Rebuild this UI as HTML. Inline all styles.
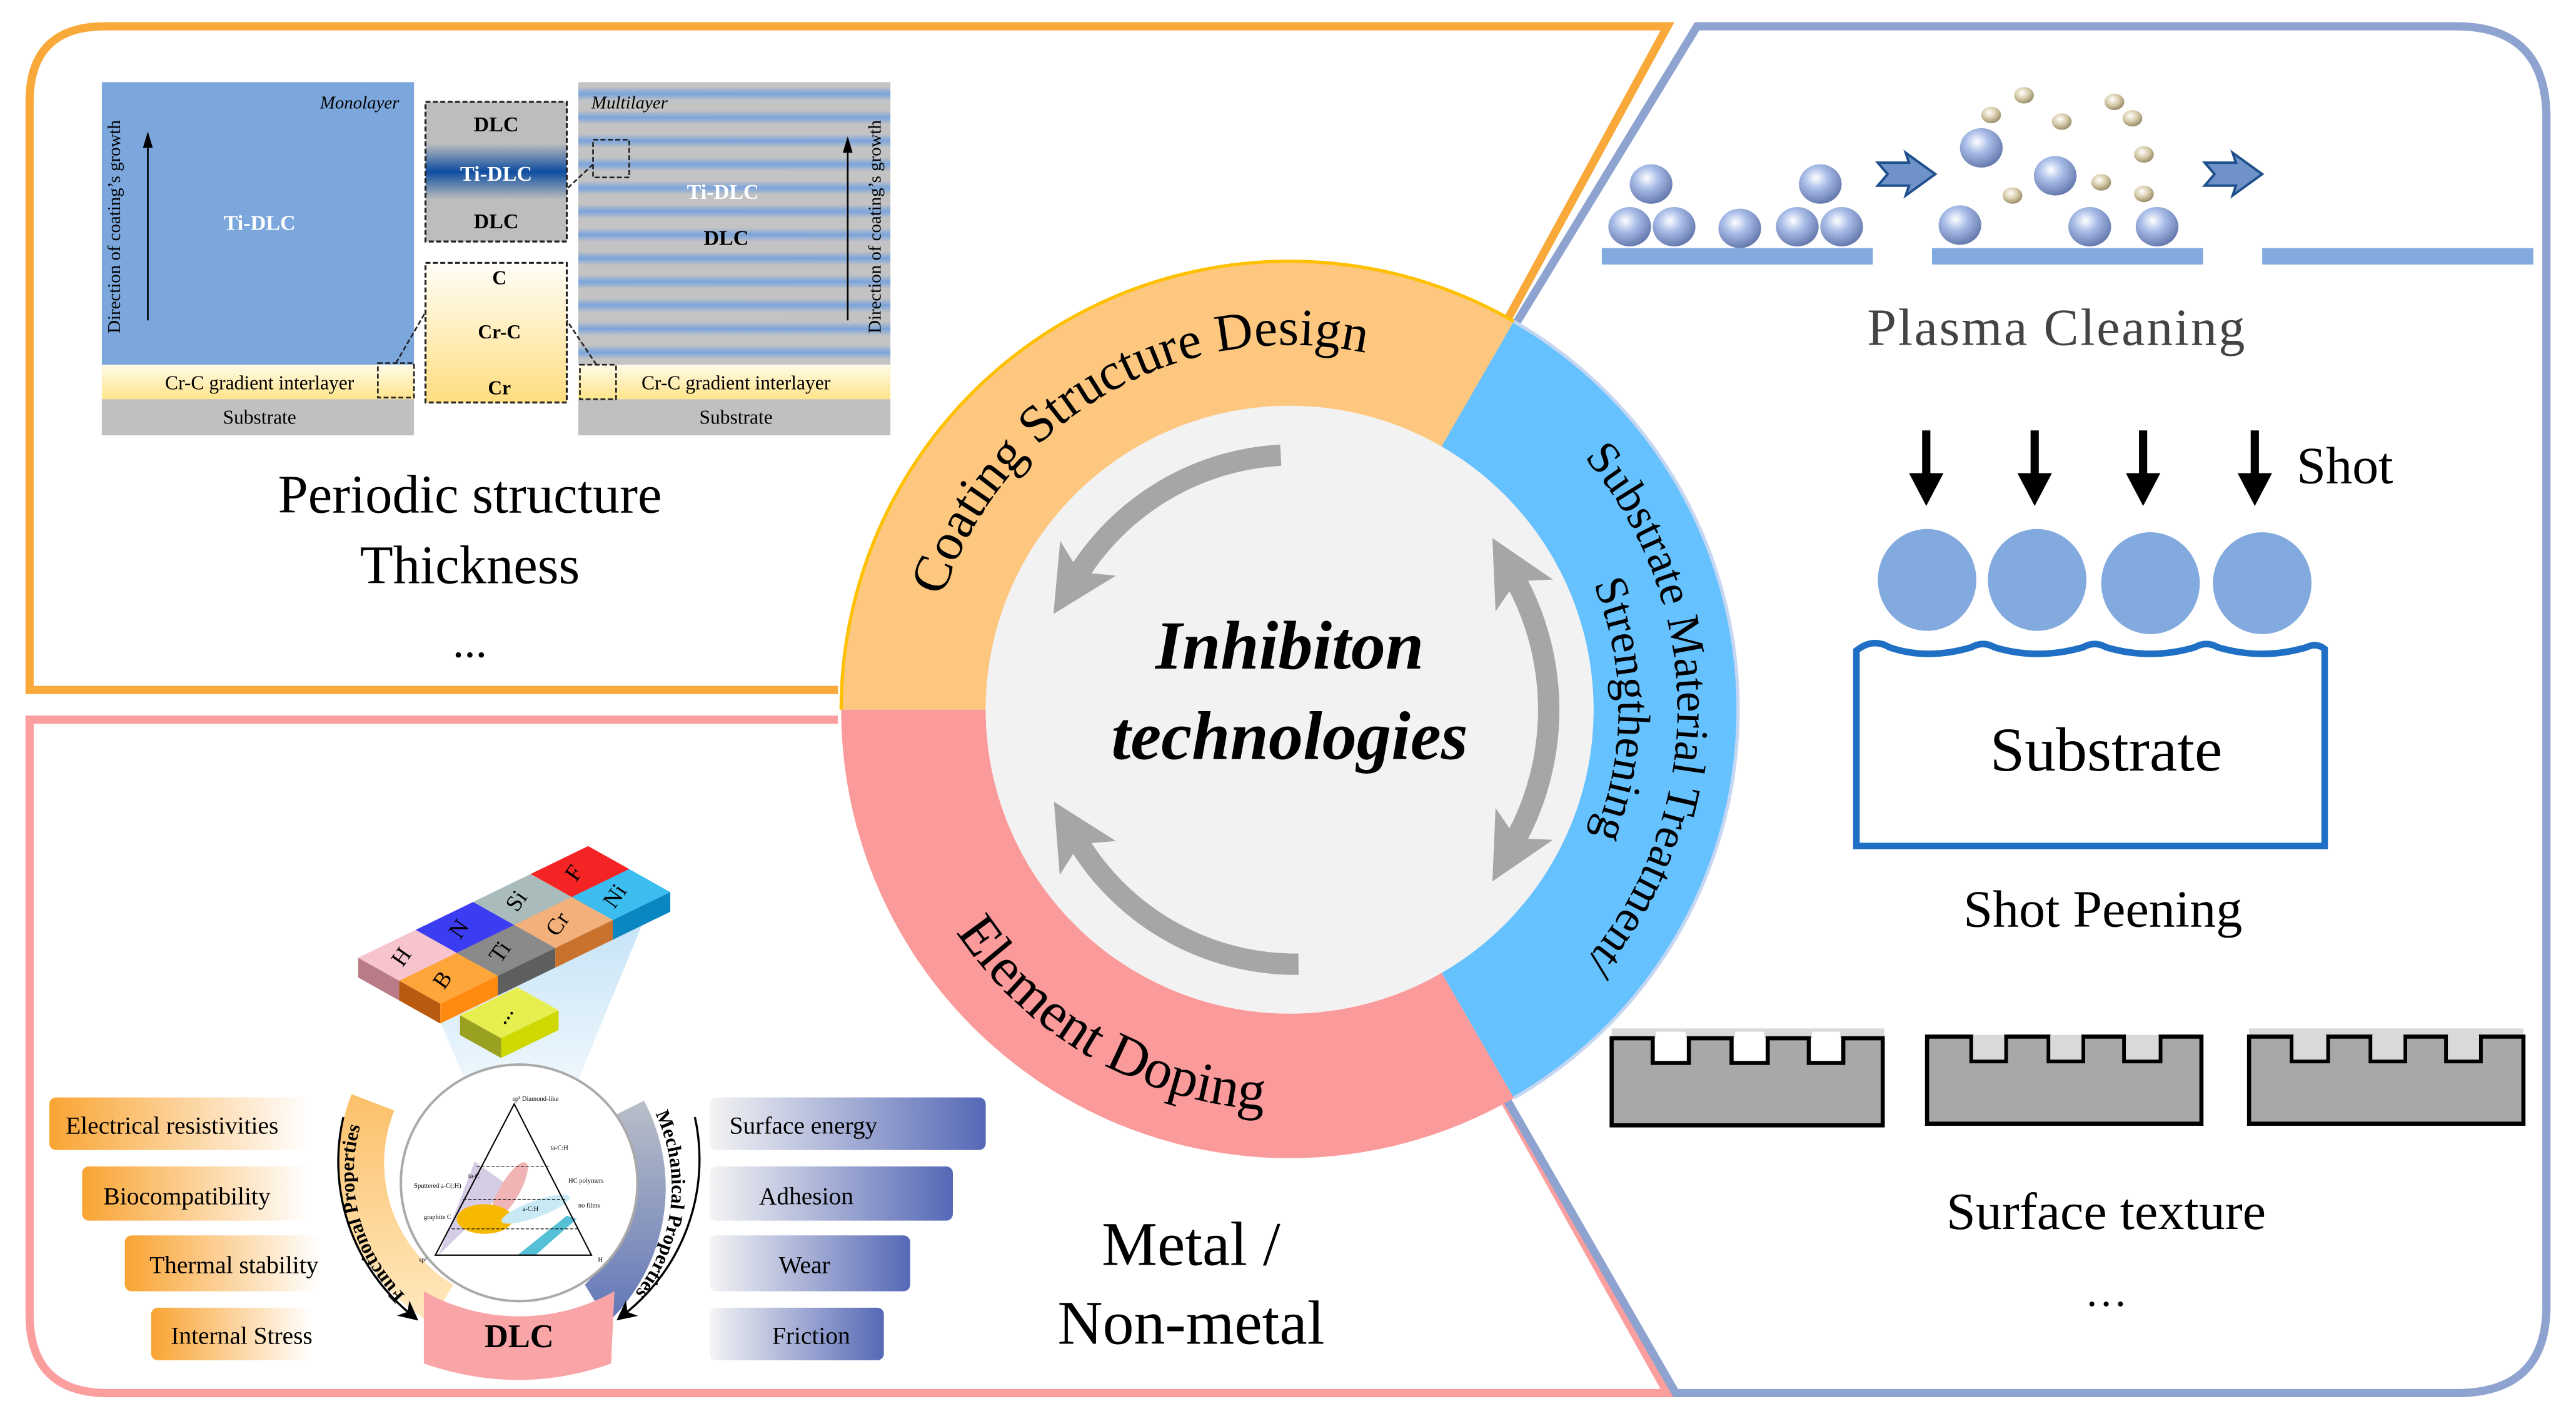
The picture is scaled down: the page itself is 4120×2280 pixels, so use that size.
<!DOCTYPE html>
<html><head><meta charset="utf-8"><style>
html,body{margin:0;padding:0;background:#fff;}
svg{display:block;}
text{font-family:"Liberation Serif",serif;}
</style></head><body>
<svg width="4120" height="2280" viewBox="0 0 1568 868" preserveAspectRatio="none" xmlns="http://www.w3.org/2000/svg">
<defs>
<linearGradient id="ilay" x1="0" y1="0" x2="0" y2="1"><stop offset="0" stop-color="#fffbe8"/><stop offset="1" stop-color="#ffe48a"/></linearGradient>
<linearGradient id="crbox" x1="0" y1="0" x2="0" y2="1"><stop offset="0" stop-color="#fffef8"/><stop offset="1" stop-color="#ffdd80"/></linearGradient>
<linearGradient id="tibox" x1="0" y1="0" x2="0" y2="1"><stop offset="0" stop-color="#bdbdbd"/><stop offset="0.3" stop-color="#bdbdbd"/><stop offset="0.5" stop-color="#0d4da0"/><stop offset="0.7" stop-color="#bdbdbd"/><stop offset="1" stop-color="#bdbdbd"/></linearGradient>
<linearGradient id="stripe" x1="0" y1="0" x2="0" y2="1"><stop offset="0" stop-color="#c3c3c3"/><stop offset="0.2" stop-color="#c3c3c3"/><stop offset="0.5" stop-color="#7aa4dc"/><stop offset="0.8" stop-color="#c3c3c3"/><stop offset="1" stop-color="#c3c3c3"/></linearGradient>
<pattern id="ml" x="0" y="50" width="200" height="14.3" patternUnits="userSpaceOnUse"><rect width="200" height="14.3" fill="url(#stripe)"/></pattern>
<linearGradient id="pillO" x1="0" y1="0" x2="1" y2="0"><stop offset="0" stop-color="#f9a433"/><stop offset="1" stop-color="#ffffff"/></linearGradient>
<linearGradient id="pillB" x1="0" y1="0" x2="1" y2="0"><stop offset="0" stop-color="#f4f4f4"/><stop offset="1" stop-color="#5568b6"/></linearGradient>
<linearGradient id="bandO" x1="0" y1="0" x2="0" y2="1"><stop offset="0" stop-color="#fcc06a"/><stop offset="1" stop-color="#ffe9c0"/></linearGradient>
<linearGradient id="bandB" x1="0" y1="0" x2="0" y2="1"><stop offset="0" stop-color="#b9bfc8"/><stop offset="1" stop-color="#6276b8"/></linearGradient>
<linearGradient id="cone" x1="0" y1="0" x2="0" y2="1"><stop offset="0" stop-color="#bfe0f6"/><stop offset="1" stop-color="#eef7fd"/></linearGradient>
<radialGradient id="ball" cx="0.4" cy="0.35" r="0.7"><stop offset="0" stop-color="#ffffff"/><stop offset="0.4" stop-color="#a9bde8"/><stop offset="1" stop-color="#5f72a8"/></radialGradient>
<radialGradient id="ballS" cx="0.4" cy="0.35" r="0.7"><stop offset="0" stop-color="#ffffff"/><stop offset="0.5" stop-color="#d8ccaa"/><stop offset="1" stop-color="#8f8460"/></radialGradient>
<marker id="gh" viewBox="0 0 10 10" refX="3" refY="5" markerWidth="40" markerHeight="40" markerUnits="userSpaceOnUse" orient="auto-start-reverse"><path d="M0,0 L10,5 L0,10 L2.5,5 Z" fill="#a6a6a6"/></marker>
<marker id="bh" viewBox="0 0 10 10" refX="5" refY="5" markerWidth="12" markerHeight="12" markerUnits="userSpaceOnUse" orient="auto"><path d="M0,0 L10,5 L0,10 L3,5 Z" fill="#000"/></marker>
<path id="tpCoat" d="M563,432 A222,222 0 0 1 896,239.7"/>
<path id="tpSub" d="M895.8,223.6 A236,236 0 0 1 895.8,640.4"/>
<path id="tpStr" d="M879,255.4 A200,200 0 0 1 879,608.6"/>
<path id="tpEl" d="M541.9,453.3 A244,244 0 0 0 888.1,653.1"/>
<path id="tpFun" d="M261,800 A104,104 0 0 1 226,668"/>
<path id="tpMec" d="M388,660 A104,104 0 0 1 372,802"/>
</defs>

<path d="M510,420 L18,420 L18,62 Q18,16 64,16 L1015,16 L860,300" fill="none" stroke="#f9a93a" stroke-width="5"/>
<path d="M510,438 L18,438 L18,800 Q18,848 66,848 L1015,848 L860,570" fill="none" stroke="#fb9e9e" stroke-width="5"/>
<path d="M860,300 L1033,16 L1495,16 Q1550,16 1550,72 L1550,795 Q1550,848 1495,848 L1020,848 L860,570" fill="none" stroke="#8ea3cf" stroke-width="5"/>

<rect x="62" y="50" width="190" height="172" fill="#7ba7dd"/>
<rect x="62" y="222" width="190" height="21" fill="url(#ilay)"/>
<rect x="62" y="243" width="190" height="22" fill="#c0c0c0"/>
<rect x="352" y="50" width="190" height="172" fill="url(#ml)"/>
<rect x="352" y="222" width="190" height="21" fill="url(#ilay)"/>
<rect x="352" y="243" width="190" height="22" fill="#c0c0c0"/>
<rect x="259" y="62" width="86" height="85" fill="url(#tibox)" stroke="#222" stroke-width="1.2" stroke-dasharray="3,1.5"/>
<rect x="259" y="160" width="86" height="85" fill="url(#crbox)" stroke="#222" stroke-width="1.2" stroke-dasharray="3,1.5"/>
<rect x="230" y="221" width="22" height="21" fill="none" stroke="#222" stroke-width="1" stroke-dasharray="3,1.5"/>
<rect x="353" y="222" width="22" height="21" fill="none" stroke="#222" stroke-width="1" stroke-dasharray="3,1.5"/>
<rect x="361" y="85" width="22" height="23" fill="none" stroke="#222" stroke-width="1" stroke-dasharray="3,1.5"/>
<path d="M241,221 L259,190 M363,222 L345,195 M361,100 L345,115" stroke="#222" stroke-width="1" stroke-dasharray="3,1.5" fill="none"/>
<path d="M90,195 L90,85" stroke="#000" stroke-width="1"/><path d="M87,90 L90,80 L93,90 Z"/>
<path d="M516,195 L516,88" stroke="#000" stroke-width="1"/><path d="M513,93 L516,83 L519,93 Z"/>
<text transform="translate(73,138) rotate(-90)" text-anchor="middle" font-size="11">Direction of coating’s growth</text>
<text transform="translate(536,138) rotate(-90)" text-anchor="middle" font-size="11">Direction of coating’s growth</text>
<text x="243" y="66" text-anchor="end" font-size="11" font-style="italic">Monolayer</text>
<text x="360" y="66" font-size="11" font-style="italic">Multilayer</text>
<text x="158" y="140" text-anchor="middle" font-size="13" font-weight="bold" fill="#fff">Ti-DLC</text>
<text x="440" y="121" text-anchor="middle" font-size="13" font-weight="bold" fill="#fff">Ti-DLC</text>
<text x="442" y="149" text-anchor="middle" font-size="13" font-weight="bold">DLC</text>
<text x="302" y="80" text-anchor="middle" font-size="13" font-weight="bold">DLC</text>
<text x="302" y="110" text-anchor="middle" font-size="13" font-weight="bold" fill="#fff">Ti-DLC</text>
<text x="302" y="139" text-anchor="middle" font-size="13" font-weight="bold">DLC</text>
<text x="304" y="173" text-anchor="middle" font-size="12" font-weight="bold">C</text>
<text x="304" y="206" text-anchor="middle" font-size="12" font-weight="bold">Cr-C</text>
<text x="304" y="240" text-anchor="middle" font-size="12" font-weight="bold">Cr</text>
<text x="158" y="237" text-anchor="middle" font-size="12">Cr-C gradient interlayer</text>
<text x="448" y="237" text-anchor="middle" font-size="12">Cr-C gradient interlayer</text>
<text x="158" y="258" text-anchor="middle" font-size="12">Substrate</text>
<text x="448" y="258" text-anchor="middle" font-size="12">Substrate</text>
<text x="286" y="312" text-anchor="middle" font-size="33">Periodic structure</text>
<text x="286" y="355" text-anchor="middle" font-size="33">Thickness</text>
<text x="286" y="400" text-anchor="middle" font-size="28">...</text>

<polygon points="268,622 392,560 350,662 285,662" fill="url(#cone)" opacity="0.9"/>
<g font-size="14" text-anchor="middle">
<polygon points="218,583 253,566 278,580 243,597" fill="#f7c3cc"/><polygon points="218,583 243,597 243,609 218,595" fill="#b97c86"/><polygon points="243,597 278,580 278,592 243,609" fill="#e8a9b4"/>
<polygon points="253,566 288,549 313,563 278,580" fill="#3c3cf2"/><polygon points="278,580 313,563 313,575 278,592" fill="#1c1cb0"/>
<polygon points="288,549 323,532 348,546 313,563" fill="#aabbbb"/><polygon points="313,563 348,546 348,558 313,575" fill="#718585"/>
<polygon points="323,532 358,515 383,529 348,546" fill="#f42424"/><polygon points="348,546 383,529 383,541 348,558" fill="#b80c0c"/>
<polygon points="243,597 278,580 303,594 268,611" fill="#ffa63a"/><polygon points="243,597 268,611 268,623 243,609" fill="#b85a10"/><polygon points="268,611 303,594 303,606 268,623" fill="#ff8a10"/>
<polygon points="278,580 313,563 338,577 303,594" fill="#8a8a8a"/><polygon points="303,594 338,577 338,589 303,606" fill="#5e5e5e"/>
<polygon points="313,563 348,546 373,560 338,577" fill="#f4b07a"/><polygon points="338,577 373,560 373,572 338,589" fill="#c8722e"/>
<polygon points="348,546 383,529 408,543 373,560" fill="#3cbdf0"/><polygon points="373,560 408,543 408,555 373,572" fill="#0a86c0"/>
<polygon points="280,618 315,601 340,615 305,632" fill="#e6ee50"/><polygon points="280,618 305,632 305,644 280,630" fill="#9aa020"/><polygon points="305,632 340,615 340,627 305,644" fill="#cfd800"/>
<text transform="translate(248,585) rotate(-55)">H</text>
<text transform="translate(283,568) rotate(-55)">N</text>
<text transform="translate(318,551) rotate(-55)">Si</text>
<text transform="translate(353,534) rotate(-55)">F</text>
<text transform="translate(273,599) rotate(-55)">B</text>
<text transform="translate(308,582) rotate(-55)">Ti</text>
<text transform="translate(343,565) rotate(-55)">Cr</text>
<text transform="translate(378,548) rotate(-55)">Ni</text>
<text transform="translate(310,620) rotate(-55)">...</text>
</g>
<path d="M214,666 A113,113 0 0 0 262,805 L276,782 A86,86 0 0 1 240,676 Z" fill="url(#bandO)"/>
<path d="M392,670 A113,113 0 0 1 370,805 L356,782 A86,86 0 0 0 372,680 Z" fill="url(#bandB)"/>
<path d="M258,786 A118,118 0 0 0 374,786 L372,830 Q316,850 258,830 Z" fill="#f9a5a8"/>
<circle cx="316" cy="720" r="72" fill="#fff" stroke="#aaa" stroke-width="1.5"/>
<path d="M209,680 A120,120 0 0 0 250,800" fill="none" stroke="#000" stroke-width="1.3" marker-end="url(#bh)"/>
<path d="M423,680 A120,120 0 0 1 380,800" fill="none" stroke="#000" stroke-width="1.3" marker-end="url(#bh)"/>
<text font-size="12" font-weight="bold"><textPath href="#tpFun" startOffset="50%" text-anchor="middle">Functional Properties</textPath></text>
<text font-size="12" font-weight="bold"><textPath href="#tpMec" startOffset="50%" text-anchor="middle">Mechanical Properties</textPath></text>
<text x="316" y="820" text-anchor="middle" font-size="20" font-weight="bold">DLC</text>
<polygon points="267,764 289,707 310,722" fill="#cdbfe0" opacity="0.8"/>
<ellipse cx="310" cy="725" rx="6" ry="20" transform="rotate(30 310 725)" fill="#f0b4b4"/>
<ellipse cx="295" cy="742" rx="17" ry="9" fill="#f7b800"/>
<ellipse cx="326" cy="736" rx="22" ry="5" transform="rotate(-20 326 736)" fill="#c9eaf4"/>
<polygon points="315,764 345,740 351,742 326,764" fill="#56c1d6"/>
<polygon points="265,764 313,672 360,764" fill="none" stroke="#000" stroke-width="0.8"/>
<path d="M290,710 L335,710 M282,730 L345,730 M275,748 L352,748" stroke="#000" stroke-width="0.4" stroke-dasharray="2,1"/>
<g font-size="4"><text x="312" y="670">sp³ Diamond-like</text><text x="285" y="717">ta-C</text><text x="335" y="700">ta-C:H</text><text x="252" y="723">Sputtered a-C(:H)</text><text x="346" y="720">HC polymers</text><text x="258" y="742">graphite C</text><text x="318" y="737">a-C:H</text><text x="352" y="735">no films</text><text x="255" y="768">sp²</text><text x="364" y="768">H</text></g>
<rect x="30" y="668" width="158" height="32" rx="4" fill="url(#pillO)"/>
<rect x="50" y="710" width="138" height="33" rx="4" fill="url(#pillO)"/>
<rect x="76" y="752" width="119" height="34" rx="4" fill="url(#pillO)"/>
<rect x="92" y="796" width="98" height="32" rx="4" fill="url(#pillO)"/>
<rect x="432" y="668" width="168" height="32" rx="4" fill="url(#pillB)"/>
<rect x="432" y="710" width="148" height="33" rx="4" fill="url(#pillB)"/>
<rect x="432" y="752" width="122" height="34" rx="4" fill="url(#pillB)"/>
<rect x="432" y="796" width="106" height="32" rx="4" fill="url(#pillB)"/>
<g font-size="15">
<text x="40" y="690">Electrical resistivities</text>
<text x="63" y="733">Biocompatibility</text>
<text x="91" y="775">Thermal stability</text>
<text x="104" y="818">Internal Stress</text>
<text x="444" y="690">Surface energy</text>
<text x="462" y="733">Adhesion</text>
<text x="474" y="775">Wear</text>
<text x="470" y="818">Friction</text>
</g>
<text x="725" y="770" text-anchor="middle" font-size="38">Metal /</text>
<text x="725" y="818" text-anchor="middle" font-size="38">Non-metal</text>

<rect x="975" y="151" width="165" height="10" fill="#82aadf"/>
<rect x="1176" y="151" width="165" height="10" fill="#82aadf"/>
<rect x="1377" y="151" width="165" height="10" fill="#82aadf"/>
<g fill="url(#ball)">
<ellipse cx="1005" cy="112" rx="13" ry="12"/><ellipse cx="992" cy="138" rx="13" ry="12"/><ellipse cx="1019" cy="138" rx="13" ry="12"/><ellipse cx="1059" cy="139" rx="13" ry="12"/><ellipse cx="1108" cy="112" rx="13" ry="12"/><ellipse cx="1094" cy="138" rx="13" ry="12"/><ellipse cx="1121" cy="138" rx="13" ry="12"/>
<ellipse cx="1206" cy="90" rx="13" ry="12"/><ellipse cx="1251" cy="107" rx="13" ry="12"/><ellipse cx="1193" cy="137" rx="13" ry="12"/><ellipse cx="1272" cy="138" rx="13" ry="12"/><ellipse cx="1313" cy="138" rx="13" ry="12"/>
</g>
<g fill="url(#ballS)">
<ellipse cx="1232" cy="58" rx="6" ry="5"/><ellipse cx="1212" cy="70" rx="6" ry="5"/><ellipse cx="1255" cy="74" rx="6" ry="5"/><ellipse cx="1287" cy="62" rx="6" ry="5"/><ellipse cx="1298" cy="72" rx="6" ry="5"/><ellipse cx="1305" cy="94" rx="6" ry="5"/><ellipse cx="1279" cy="111" rx="6" ry="5"/><ellipse cx="1225" cy="119" rx="6" ry="5"/><ellipse cx="1305" cy="118" rx="6" ry="5"/>
</g>
<path d="M1143,99 L1162,99 L1160,93 L1178,106 L1160,119 L1162,113 L1143,113 L1149,106 Z" fill="#6f93c8" stroke="#1f4f8c" stroke-width="1.5"/>
<path d="M1342,99 L1361,99 L1359,93 L1377,106 L1359,119 L1361,113 L1342,113 L1348,106 Z" fill="#6f93c8" stroke="#1f4f8c" stroke-width="1.5"/>
<text x="1252" y="210" text-anchor="middle" font-size="32" fill="#444" letter-spacing="1">Plasma Cleaning</text>
<g fill="#000">
<rect x="1170" y="262" width="5" height="30"/><path d="M1162,288 L1183,288 L1172.5,308 Z"/>
<rect x="1236" y="262" width="5" height="30"/><path d="M1228,288 L1249,288 L1238.5,308 Z"/>
<rect x="1302" y="262" width="5" height="30"/><path d="M1294,288 L1315,288 L1304.5,308 Z"/>
<rect x="1370" y="262" width="5" height="30"/><path d="M1362,288 L1383,288 L1372.5,308 Z"/>
</g>
<text x="1398" y="294" font-size="32">Shot</text>
<path d="M1130,396 Q1140,388 1150,394 Q1173,402 1200,394 Q1207,390 1214,394 Q1240,402 1268,394 Q1275,390 1282,394 Q1309,402 1336,394 Q1343,390 1350,394 Q1377,402 1404,394 Q1410,391 1415,395 L1415,515 L1130,515 Z" fill="#fff" stroke="#1f6fc5" stroke-width="4"/>
<g fill="#82aadf">
<ellipse cx="1173" cy="353" rx="30" ry="31"/><ellipse cx="1240" cy="353" rx="30" ry="31"/><ellipse cx="1309" cy="355" rx="30" ry="31"/><ellipse cx="1377" cy="355" rx="30" ry="31"/>
</g>
<text x="1282" y="469" text-anchor="middle" font-size="38">Substrate</text>
<text x="1280" y="564" text-anchor="middle" font-size="32">Shot Peening</text>
<rect x="981" y="626" width="166" height="6" fill="#d9d9d9"/>
<path d="M981,632 L1006,632 L1006,647 L1028,647 L1028,632 L1054,632 L1054,647 L1076,647 L1076,632 L1101,632 L1101,647 L1122,647 L1122,632 L1146,632 L1146,685 L981,685 Z" fill="#a8a8a8" stroke="#000" stroke-width="2.5"/>
<rect x="1008" y="628" width="18" height="14" fill="#fff"/><rect x="1056" y="628" width="18" height="14" fill="#fff"/><rect x="1103" y="628" width="17" height="14" fill="#fff"/>
<path d="M1173,631 L1200,631 L1200,646 L1221,646 L1221,631 L1247,631 L1247,646 L1268,646 L1268,631 L1293,631 L1293,646 L1315,646 L1315,631 L1340,631 L1340,684 L1173,684 Z" fill="#a8a8a8" stroke="#000" stroke-width="2.5"/>
<rect x="1201" y="630" width="19" height="15" fill="#d9d9d9"/><rect x="1248" y="630" width="19" height="15" fill="#d9d9d9"/><rect x="1294" y="630" width="20" height="15" fill="#d9d9d9"/>
<rect x="1369" y="626" width="167" height="6" fill="#d9d9d9"/>
<path d="M1369,631 L1395,631 L1395,646 L1417,646 L1417,631 L1443,631 L1443,646 L1464,646 L1464,631 L1489,631 L1489,646 L1510,646 L1510,631 L1536,631 L1536,684 L1369,684 Z" fill="#a8a8a8" stroke="#000" stroke-width="2.5"/>
<rect x="1396" y="630" width="20" height="15" fill="#d9d9d9"/><rect x="1444" y="630" width="19" height="15" fill="#d9d9d9"/><rect x="1490" y="630" width="19" height="15" fill="#d9d9d9"/>
<text x="1282" y="748" text-anchor="middle" font-size="32">Surface texture</text>
<text x="1282" y="795" text-anchor="middle" font-size="26">…</text>

<path d="M512,432 A273,273 0 0 1 921.5,195.6 L877.5,271.8 A185,185 0 0 0 600,432 Z" fill="#fdc780"/>
<path d="M512,432 A273,273 0 0 1 921.5,195.6" fill="none" stroke="#ffc000" stroke-width="2"/>
<path d="M921.5,195.6 A273,273 0 0 1 921.5,668.4 L877.5,592.2 A185,185 0 0 0 877.5,271.8 Z" fill="#66c1ff"/>
<path d="M921.5,195.6 A273,273 0 0 1 921.5,668.4" fill="none" stroke="#c4d6f2" stroke-width="2"/>
<path d="M921.5,668.4 A273,273 0 0 1 512,432 L600,432 A185,185 0 0 0 877.5,592.2 Z" fill="#fb9a9a"/>
<circle cx="785" cy="432" r="185" fill="#f2f2f2"/>
<g fill="none" stroke="#a6a6a6" stroke-width="13">
<path d="M779.6,277.1 A155,155 0 0 0 656,350" marker-end="url(#gh)"/>
<path d="M790.4,586.9 A155,155 0 0 1 656,512" marker-end="url(#gh)"/>
<path d="M922,352 A165,165 0 0 1 922,512" marker-start="url(#gh)" marker-end="url(#gh)"/>
</g>
<text x="785" y="407" text-anchor="middle" font-size="42" font-weight="bold" font-style="italic">Inhibiton</text>
<text x="785" y="462" text-anchor="middle" font-size="42" font-weight="bold" font-style="italic">technologies</text>
<text font-size="32"><textPath href="#tpCoat" startOffset="50%" text-anchor="middle">Coating Structure Design</textPath></text>
<text font-size="28"><textPath href="#tpSub" startOffset="50%" text-anchor="middle">Substrate Material Treatment/</textPath></text>
<text font-size="28"><textPath href="#tpStr" startOffset="50%" text-anchor="middle">Strengthening</textPath></text>
<text font-size="34"><textPath href="#tpEl" startOffset="50%" text-anchor="middle">Element Doping</textPath></text>
</svg>
</body></html>
